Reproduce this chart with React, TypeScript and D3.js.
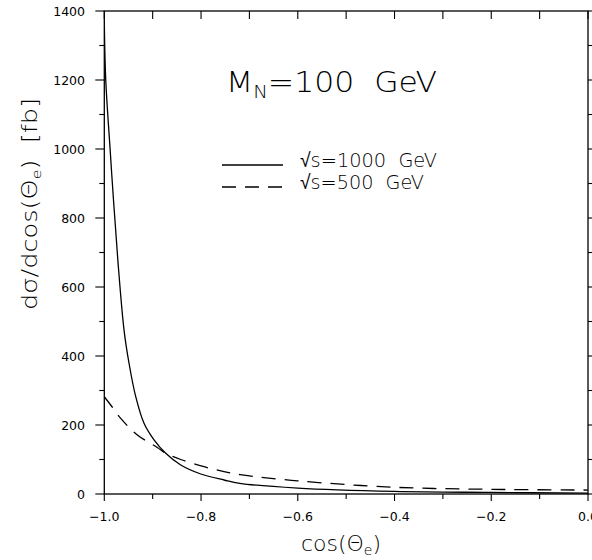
import React from "react";
import * as d3 from "d3";

const cosSolid = [-1.0, -0.997, -0.988, -0.981, -0.972, -0.9592, -0.9489, -0.935, -0.9179, -0.8972, -0.873, -0.842, -0.8006, -0.7524, -0.72, -0.6, -0.4, -0.2, 0.0];
const sigSolid = [1370, 1200, 1000, 852, 678, 475, 379, 282, 205, 157, 118, 84, 58, 40.6, 31, 17, 7.5, 4.5, 2.5];

const cosDashed = [-1.0, -0.9868, -0.966, -0.9317, -0.8904, -0.873, -0.842, -0.7937, -0.7524, -0.7193, -0.6, -0.4, -0.2, 0.0];
const sigDashed = [282, 258, 219, 171, 135, 118, 100, 79, 65, 56, 38, 19.5, 13.5, 11.5];

const xMajor = [-1.0, -0.8, -0.6, -0.4, -0.2, 0.0];
const xMinor = [-0.9, -0.7, -0.5, -0.3, -0.1];
const yMajor = [0, 200, 400, 600, 800, 1000, 1200, 1400];
const yMinor = [100, 300, 500, 700, 900, 1100, 1300];

const W = 592, H = 560;
const L = 104.3, R = 588, T = 11, B = 494;
const FONT = "'DejaVu Sans', 'Liberation Sans', sans-serif";
const SP = "\u00a0\u00a0";

export default function App() {
  const x = d3.scaleLinear().domain([-1, 0]).range([L, R]);
  const y = d3.scaleLinear().domain([0, 1400]).range([B, T]);
  const line = d3.line<[number, number]>().x(d => x(d[0])).y(d => y(d[1])).curve(d3.curveCatmullRom.alpha(0.5));
  const solid = line(cosSolid.map((c, i) => [c, sigSolid[i]]) as [number, number][]) || "";
  const dashed = line(cosDashed.map((c, i) => [c, sigDashed[i]]) as [number, number][]) || "";
  const fmt = (v: number) => (v < 0 ? "\u2212" : "") + Math.abs(v).toFixed(1);

  return (
    <svg width={W} height={H} style={{ position: "fixed", left: 0, top: 0, background: "#fff" }} fontFamily={FONT}>
      <rect x={0} y={0} width={W} height={H} fill="#fff" />
      <defs>
        <clipPath id="pc"><rect x={L} y={T - 2} width={R - L} height={B - T + 2} /></clipPath>
      </defs>
      <rect x={L} y={T} width={R - L} height={B - T} fill="none" stroke="#000" strokeWidth={1.3} />
      {xMajor.map(v => (
        <g key={"xm" + v}>
          <line x1={x(v)} x2={x(v)} y1={B} y2={B + 7} stroke="#000" strokeWidth={1.1} />
          <line x1={x(v)} x2={x(v)} y1={T} y2={T + 8} stroke="#000" strokeWidth={1.1} />
          <text x={x(v)} y={521} textAnchor="middle" fontSize={12.5} fill="#000">{fmt(v)}</text>
        </g>
      ))}
      {xMinor.map(v => (
        <g key={"xn" + v}>
          <line x1={x(v)} x2={x(v)} y1={B} y2={B + 5} stroke="#000" strokeWidth={1.1} />
          <line x1={x(v)} x2={x(v)} y1={T} y2={T + 8} stroke="#000" strokeWidth={1.1} />
        </g>
      ))}
      {yMajor.map(v => (
        <g key={"ym" + v}>
          <line x1={L - 9} x2={L} y1={y(v)} y2={y(v)} stroke="#000" strokeWidth={1.1} />
          <line x1={R} x2={R + 5} y1={y(v)} y2={y(v)} stroke="#000" strokeWidth={1.1} />
          <text x={85} y={y(v) + 4.5} textAnchor="end" fontSize={12.5} fill="#000">{v}</text>
        </g>
      ))}
      {yMinor.map(v => (
        <g key={"yn" + v}>
          <line x1={L - 5} x2={L} y1={y(v)} y2={y(v)} stroke="#000" strokeWidth={1.1} />
          <line x1={R} x2={R + 4} y1={y(v)} y2={y(v)} stroke="#000" strokeWidth={1.1} />
        </g>
      ))}
      <g clipPath="url(#pc)">
        <path d={solid} fill="none" stroke="#000" strokeWidth={1.3} />
        <path d={dashed} fill="none" stroke="#000" strokeWidth={1.3} strokeDasharray="14,9" />
      </g>
      <text x={226} y={92} fontSize={29} fill="#000" fontWeight={200} textLength={211} lengthAdjust="spacingAndGlyphs">
        M<tspan fontSize={18} dy={6} fill="#000">N</tspan><tspan dy={-6} fill="#000">{"=100" + SP + "GeV"}</tspan>
      </text>
      <line x1={222} x2={283} y1={165} y2={165} stroke="#000" strokeWidth={1.3} />
      <line x1={222} x2={283} y1={187} y2={187} stroke="#000" strokeWidth={1.3} strokeDasharray="14,9" />
      <text x={300} y={167} fontSize={20} fill="#000" fontWeight={200} textLength={137} lengthAdjust="spacingAndGlyphs">
        {"√s=1000" + SP + "GeV"}
      </text>
      <text x={300} y={189} fontSize={20} fill="#000" fontWeight={200} textLength={124} lengthAdjust="spacingAndGlyphs">
        {"√s=500" + SP + "GeV"}
      </text>
      <text x={341} y={551} textAnchor="middle" fontSize={22} fill="#000" fontWeight={200}>
        cos(Θ<tspan fontSize={14} dy={4}>e</tspan><tspan dy={-4}>)</tspan>
      </text>
      <text transform="translate(37,204) rotate(-90)" textAnchor="middle" fontSize={21} fill="#000" fontWeight={200} textLength={212} lengthAdjust="spacingAndGlyphs">
        dσ/dcos(Θ<tspan fontSize={13} dy={4}>e</tspan><tspan dy={-4}>{")" + SP + "[fb]"}</tspan>
      </text>
    </svg>
  );
}
